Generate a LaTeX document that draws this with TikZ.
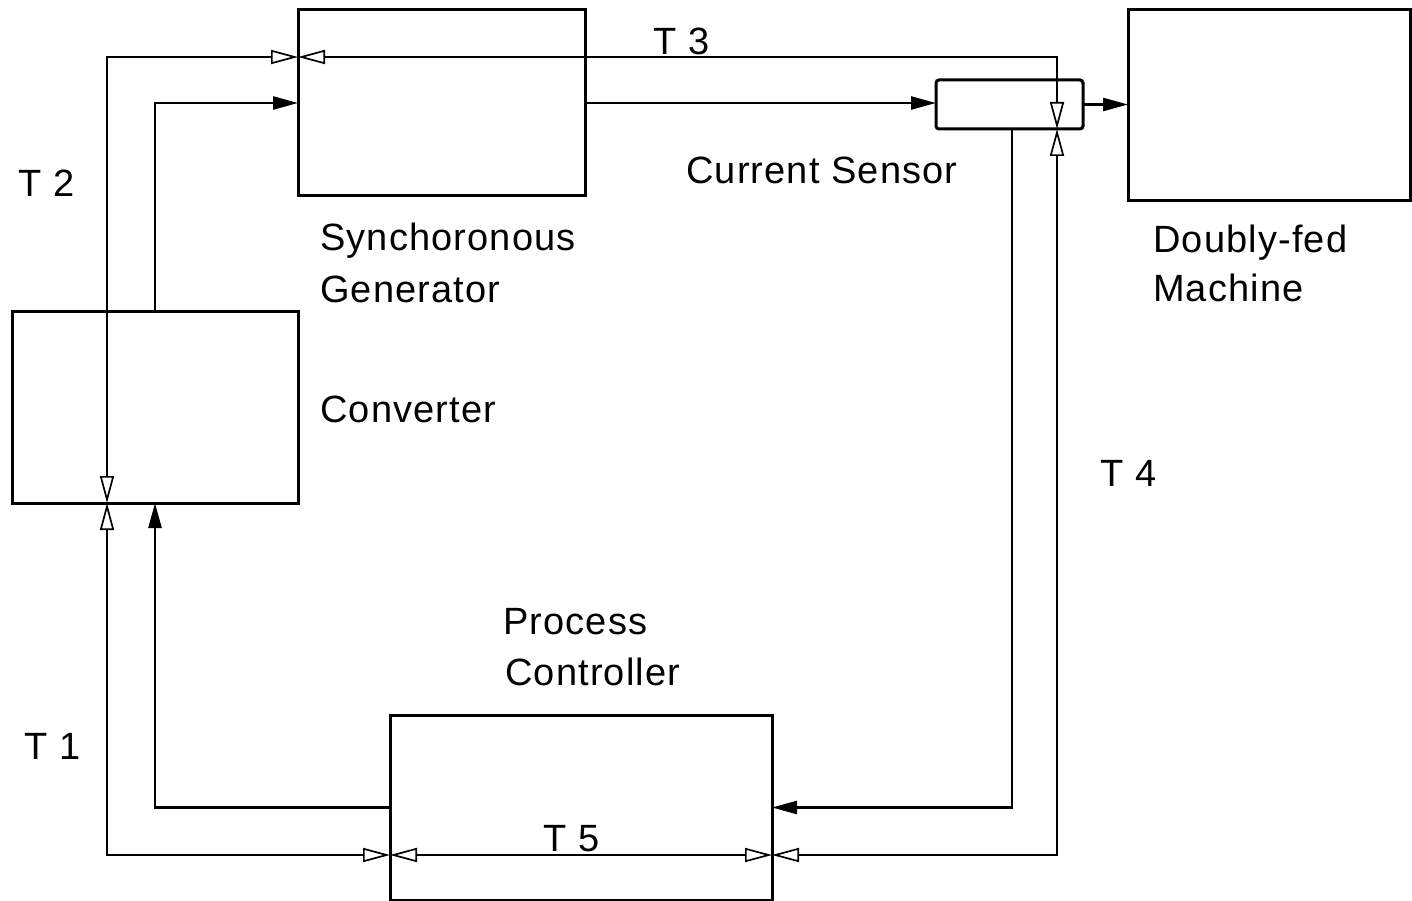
\documentclass[tikz,border=0pt]{standalone}
\usepackage{fontspec}
\setmainfont{Liberation Sans}[LetterSpace=3]
\usetikzlibrary{arrows.meta,calc}
\tikzset{
  blk/.style={draw, line width=3pt, anchor=north west, inner sep=0pt, outer sep=0pt},
  sig/.style={line width=2.5pt, -{Triangle[length=25pt,width=13pt]}},
  tl/.style={line width=1.7pt, {Triangle[open,length=27pt,width=14pt]}-{Triangle[open,length=27pt,width=14pt]}},
  lbl/.style={anchor=base west, inner sep=0pt, font=\fontsize{38}{46}\selectfont}
}
\begin{document}
\begin{tikzpicture}[x=1pt,y=-1pt]
\useasboundingbox (0,0) rectangle (1412,901);
% blocks
\node[blk, minimum width=287pt, minimum height=186pt] (sg) at (298,10) {};
\node[blk, minimum width=147pt, minimum height=49pt, rounded corners=3pt] (cs) at (936,80) {};
\node[blk, minimum width=282pt, minimum height=191pt] (dfm) at (1128,10) {};
\node[blk, minimum width=286pt, minimum height=192pt] (conv) at (12,311) {};
\node[blk, minimum width=382pt, minimum height=185pt] (pc) at (390,715) {};
% junction points of the T lines
\coordinate (jSG) at ($(sg.north west)+(0,47)$);
\coordinate (jConv) at ($(conv.south west)+(95,0)$);
\coordinate (jPCL) at ($(pc.north west)+(0,140)$);
\coordinate (jPCR) at ($(pc.north east)+(0,140)$);
\coordinate (jCS) at ($(cs.south west)+(121,0)$);
% signal connectors
\draw[sig] ($(conv.north west)+(143,0)$) |- (sg.west);
\draw[sig] (sg.east) -- (sg.east -| cs.west);
\draw[sig] (cs.east) -- (cs.east -| dfm.west);
\draw[sig] ($(cs.south west)+(76,0)$) |- (pc.east);
\draw[sig] (pc.west) -| ($(conv.south west)+(143,0)$);
% T lines
\draw[tl] (jConv) |- (jSG);
\draw[tl] (jSG) -| (jCS);
\draw[tl] (jConv) |- (jPCL);
\draw[tl] (jPCL) -- (jPCR);
\draw[tl] (jPCR) -| (jCS);
% labels
\node[lbl] (t2) at (18,197) {T 2};
\node[lbl] (sgl1) at (320,251) {Synchoronous};
\node[lbl] (sgl2) at (320,302) {Generator};
\node[lbl] (csl) at (686,184) {Current Sensor};
\node[lbl] (dfl1) at (1153,252) {Doubly-fed};
\node[lbl] (dfl2) at (1153,301) {Machine};
\node[lbl] (cvl) at (320,422) {Converter};
\node[lbl] (t4) at (1100,486) {T 4};
\node[lbl] (pcl1) at (503,634) {Process};
\node[lbl] (pcl2) at (505,685) {Controller};
\node[lbl] (t1) at (24,759) {T 1};
\node[lbl] (t5) at (543,851) {T 5};
\node[lbl] (t3) at (653,55) {T 3};
\end{tikzpicture}
\end{document}
